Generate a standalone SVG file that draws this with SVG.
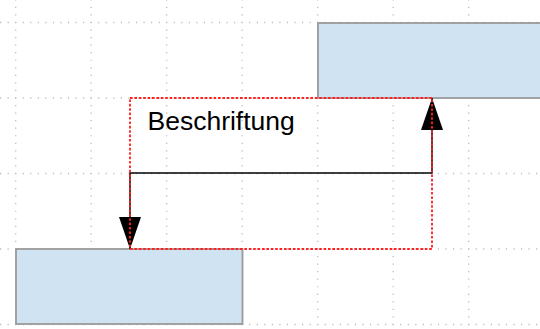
<svg xmlns="http://www.w3.org/2000/svg" width="540" height="329" viewBox="0 0 540 329">
  <style>
    .grid line { stroke: #bdbdbd; stroke-width: 1.3; stroke-dasharray: 1.2 6.35; }
    .node rect { fill: #cfe3f2; stroke: #9a9a9a; stroke-width: 1.8; }
    .sel { fill: none; stroke: #ff2020; stroke-width: 1.8; stroke-dasharray: 2.6 1.8; }
    .conn { fill: none; stroke: #000; stroke-width: 1.5; }
    .label { font-family: "Liberation Sans", Arial, sans-serif; font-size: 26.5px; fill: #000; }
  </style>
  <defs>
    <marker id="arrow" viewBox="0 0 32 22" refX="32" refY="11" markerWidth="32" markerHeight="22" markerUnits="userSpaceOnUse" orient="auto-start-reverse">
      <path d="M0,0 L32,11 L0,22 Z" fill="#000"/>
    </marker>
  </defs>
  <rect width="540" height="329" fill="#fff"/>
  <g class="grid">
    <line x1="-7.55" y1="22.5" x2="540" y2="22.5"/>
    <line x1="-7.55" y1="98" x2="540" y2="98"/>
    <line x1="-7.55" y1="173.5" x2="540" y2="173.5"/>
    <line x1="-7.55" y1="249" x2="540" y2="249"/>
    <line x1="-7.55" y1="324.5" x2="540" y2="324.5"/>
    <line x1="15.7" y1="-0.75" x2="15.7" y2="329"/>
    <line x1="91.2" y1="-0.75" x2="91.2" y2="329"/>
    <line x1="166.7" y1="-0.75" x2="166.7" y2="329"/>
    <line x1="242.2" y1="-0.75" x2="242.2" y2="329"/>
    <line x1="317.7" y1="-0.75" x2="317.7" y2="329"/>
    <line x1="393.2" y1="-0.75" x2="393.2" y2="329"/>
    <line x1="468.7" y1="-0.75" x2="468.7" y2="329"/>
  </g>
  <g id="node-top" class="node">
    <rect x="318" y="23" width="240" height="75"/>
  </g>
  <g id="node-bottom" class="node">
    <rect x="16" y="249" width="226.5" height="75"/>
  </g>
  <g id="connectors">
    <path class="conn" d="M130,249 L130,173 L432,173 L432,98" marker-start="url(#arrow)" marker-end="url(#arrow)"/>
  </g>
  <rect class="sel" x="130" y="98" width="302" height="151"/>
  <g id="label">
    <text class="label" x="147.5" y="129.5">Beschriftung</text>
  </g>
</svg>
